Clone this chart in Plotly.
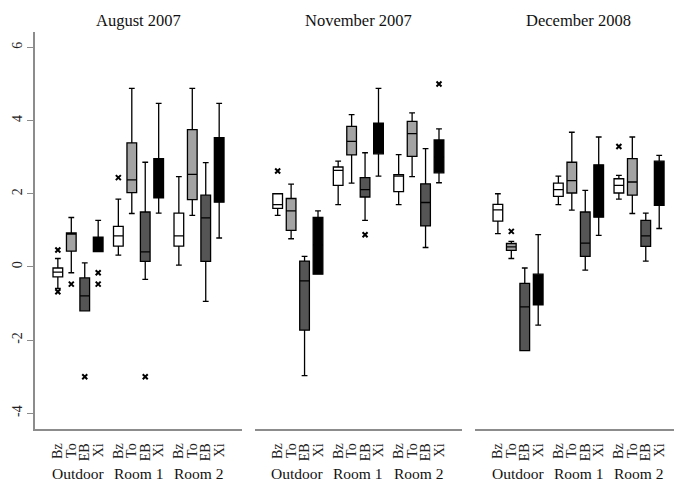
import plotly.graph_objects as go

# ---------------- data ----------------
compounds = ["Bz", "To", "EB", "Xi"]
locations = ["Outdoor", "Room 1", "Room 2"]
panels = ["August 2007", "November 2007", "December 2008"]
y_tick_vals = [-4, -2, 0, 2, 4, 6]
y_tick_text = ["-4", "-2", "0", "2", "4", "6"]

# order: Outdoor Bz,To,EB,Xi | Room1 Bz,To,EB,Xi | Room2 Bz,To,EB,Xi
aug_lo  = [-0.59, -0.16, -1.20, 0.42, 0.32, 1.46, -0.34, 1.47, 0.05, 1.41, -0.94, 0.79]
aug_q1  = [-0.27, 0.43, -1.20, 0.42, 0.57, 2.03, 0.15, 1.89, 0.57, 1.84, 0.15, 1.77]
aug_med = [-0.14, 0.90, -0.79, 0.60, 0.85, 2.38, 0.41, 2.40, 0.85, 2.53, 1.34, 2.53]
aug_q3  = [-0.03, 0.93, -0.30, 0.81, 1.11, 3.39, 1.50, 2.96, 1.47, 3.75, 1.96, 3.53]
aug_hi  = [0.23, 1.35, 0.11, 1.27, 1.85, 4.88, 2.86, 4.47, 2.47, 4.88, 2.85, 4.47]
aug_out_idx = [0, 0, 1, 2, 3, 3, 4, 6]
aug_out_val = [0.46, -0.68, -0.47, -3.0, -0.16, -0.47, 2.44, -3.0]

nov_lo  = [1.41, 0.77, -2.97, -0.20, 1.70, 2.29, 1.27, 2.48, 1.70, 2.47, 0.53, 2.30]
nov_q1  = [1.60, 1.00, -1.73, -0.20, 2.23, 3.06, 1.91, 3.09, 2.06, 3.02, 1.12, 2.57]
nov_med = [1.70, 1.53, -0.38, 0.60, 2.64, 3.43, 2.11, 3.50, 2.48, 3.64, 1.76, 3.00]
nov_q3  = [2.00, 1.87, 0.16, 1.35, 2.73, 3.84, 2.44, 3.93, 2.52, 3.98, 2.27, 3.47]
nov_hi  = [2.00, 2.26, 0.29, 1.53, 2.89, 4.16, 3.12, 4.88, 3.07, 4.21, 3.23, 3.77]
nov_out_idx = [0, 6, 11]
nov_out_val = [2.62, 0.88, 5.0]

dec_lo  = [0.91, 0.23, -2.29, -1.59, 1.70, 1.55, -0.09, 0.86, 1.85, 1.46, 0.16, 1.05]
dec_q1  = [1.25, 0.45, -2.29, -1.04, 1.93, 2.02, 0.29, 1.36, 2.02, 1.96, 0.56, 1.68]
dec_med = [1.56, 0.55, -1.09, -0.55, 2.11, 2.36, 0.65, 2.06, 2.23, 2.32, 0.85, 2.20]
dec_q3  = [1.71, 0.64, -0.45, -0.20, 2.29, 2.86, 1.50, 2.79, 2.41, 2.96, 1.27, 2.89]
dec_hi  = [2.00, 0.70, -0.03, 0.88, 2.48, 3.68, 2.09, 3.55, 2.50, 3.55, 1.47, 3.05]
dec_out_idx = [1, 8]
dec_out_val = [0.97, 3.29]

# ---------------- style ----------------
FONT = "Liberation Serif, Times New Roman, serif"
fills = {"Bz": "#ffffff", "To": "#a3a3a3", "EB": "#555555", "Xi": "#000000"}
group_starts = [0, 4.5, 9]
positions = [g + k for g in group_starts for k in range(4)]
AXC = "#8c8c8c"

panel_data = [
    (aug_lo, aug_q1, aug_med, aug_q3, aug_hi, aug_out_idx, aug_out_val),
    (nov_lo, nov_q1, nov_med, nov_q3, nov_hi, nov_out_idx, nov_out_val),
    (dec_lo, dec_q1, dec_med, dec_q3, dec_hi, dec_out_idx, dec_out_val),
]

fig = go.Figure()
xrefs = ["x", "x2", "x3"]
for p, (lo, q1, med, q3, hi, oi, ov) in enumerate(panel_data):
    for c_i, comp in enumerate(compounds):
        idx = [g * 4 + c_i for g in range(3)]
        fig.add_trace(go.Box(
            x=[positions[i] for i in idx],
            q1=[q1[i] for i in idx],
            median=[med[i] for i in idx],
            q3=[q3[i] for i in idx],
            lowerfence=[lo[i] for i in idx],
            upperfence=[hi[i] for i in idx],
            fillcolor=fills[comp],
            line=dict(color="#000000", width=1.3),
            width=0.72, whiskerwidth=0.6,
            boxpoints=False, hoverinfo="skip", showlegend=False,
            xaxis=xrefs[p], yaxis="y",
        ))
    fig.add_trace(go.Scatter(
        x=[positions[i] for i in oi], y=ov, mode="markers",
        marker=dict(symbol="x-thin", size=5, line=dict(color="#000000", width=2)),
        hoverinfo="skip", showlegend=False, xaxis=xrefs[p], yaxis="y",
    ))

domains = [[0.0, 0.324], [0.344, 0.668], [0.6886, 1.0]]
ranges = [[-1.7, 13.7], [-1.7, 13.7], [-1.7, 13.1]]
tick_text = compounds * 3

layout = dict(
    width=674, height=482,
    margin=dict(l=35, r=0, t=32, b=53),
    paper_bgcolor="white", plot_bgcolor="white",
    font=dict(family=FONT, color="#222222"),
    yaxis=dict(range=[-4.43, 6.42], tickvals=y_tick_vals, ticktext=y_tick_text,
               tickangle=-90, ticks="outside", ticklen=6, tickcolor=AXC, tickwidth=1.3,
               showline=True, linecolor=AXC, linewidth=1.5, showgrid=False, zeroline=False,
               tickfont=dict(size=14, family=FONT, color="#222222"), anchor="x"),
)
annotations = []
for p in range(3):
    key = "xaxis" if p == 0 else f"xaxis{p+1}"
    layout[key] = dict(domain=domains[p], range=ranges[p], anchor="y",
                       showline=True, linecolor=AXC, linewidth=1.5,
                       showgrid=False, zeroline=False, ticks="",
                       tickvals=positions, ticktext=tick_text, tickangle=-90,
                       ticklabelstandoff=7,
                       tickfont=dict(size=14, family=FONT, color="#222222"))
    annotations.append(dict(text=panels[p], xref=xrefs[p], yref="paper",
                            x=6, y=1.030, xanchor="center", yanchor="middle",
                            showarrow=False, font=dict(size=16.5, family=FONT, color="#111111")))
    for g, loc in enumerate(locations):
        annotations.append(dict(text=loc, xref=xrefs[p], yref="paper",
                                x=group_starts[g] + 1.5, y=-0.112,
                                xanchor="center", yanchor="middle",
                                showarrow=False, font=dict(size=15.5, family=FONT, color="#111111")))
layout["annotations"] = annotations
fig.update_layout(**layout)
fig.write_html("out.html", config={"displayModeBar": False},
               post_script="document.body.style.margin='0px';document.body.style.overflow='hidden';")
